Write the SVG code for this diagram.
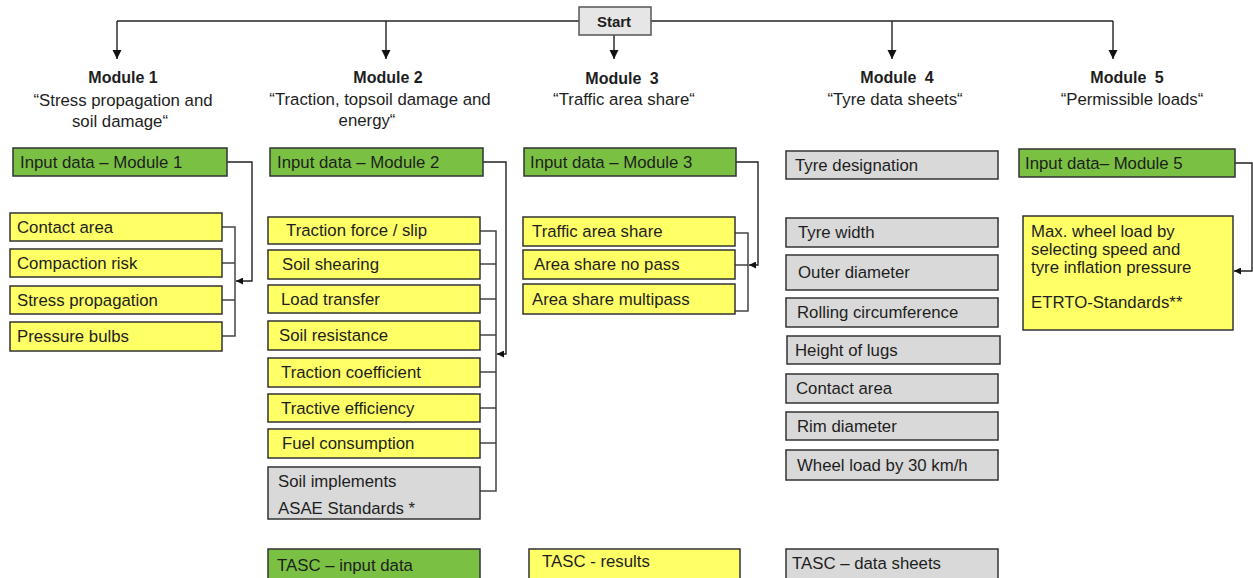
<svg xmlns="http://www.w3.org/2000/svg" width="1253" height="578" viewBox="0 0 1253 578">
<style>
text{font-family:"Liberation Sans",Arial,sans-serif;fill:#1e1e1e;font-size:16.8px}
.h{font-weight:bold;text-anchor:middle;font-size:16px}
.w{word-spacing:4px}
.s{text-anchor:middle}
rect.g{fill:#7ac143;stroke:#333;stroke-width:1.5}
rect.y{fill:#ffff66;stroke:#333;stroke-width:1.5}
rect.r{fill:#d9d9d9;stroke:#333;stroke-width:1.5}
rect.st{fill:#e6e6e6;stroke:#555;stroke-width:1.5}
.c{fill:none;stroke:#222;stroke-width:1.4}
.b{fill:none;stroke:#444;stroke-width:1.5}
</style>
<defs>
<marker id="ad" viewBox="0 0 10 10" refX="10" refY="5" markerWidth="9" markerHeight="10" markerUnits="userSpaceOnUse" orient="auto"><path d="M0,0 L10,5 L0,10 Z" fill="#111"/></marker>
<marker id="al" viewBox="0 0 10 10" refX="10" refY="5" markerWidth="8" markerHeight="7" markerUnits="userSpaceOnUse" orient="auto"><path d="M0,0 L10,5 L0,10 Z" fill="#111"/></marker>
</defs>

<g id="connectors">
<path class="c" d="M117,21 H1113"/>
<path class="c" d="M117,21 V59" marker-end="url(#ad)"/>
<path class="c" d="M386,21 V59" marker-end="url(#ad)"/>
<path class="c" d="M614,35 V59" marker-end="url(#ad)"/>
<path class="c" d="M892,21 V59" marker-end="url(#ad)"/>
<path class="c" d="M1113,21 V59" marker-end="url(#ad)"/>
<path class="c" d="M227,162 H252 V281 H236" marker-end="url(#al)"/>
<path class="b" d="M222,227 H235 V336 H222 M222,263 H235 M222,300 H235"/>
<path class="c" d="M483,162 H506 V354 H497" marker-end="url(#al)"/>
<path class="b" d="M480,231 H496 V491 H480 M480,264 H496 M480,299 H496 M480,335 H496 M480,372 H496 M480,408 H496 M480,443 H496"/>
<path class="c" d="M736,162 H758 V265 H749" marker-end="url(#al)"/>
<path class="b" d="M735,233 H748 V311 H735 M735,265 H748"/>
<path class="c" d="M1235,163 H1252 V271 H1234" marker-end="url(#al)"/>
</g>

<g id="start"><rect class="st" x="579" y="7" width="72" height="28"/><text class="h" x="614" y="27" style="font-size:15px">Start</text></g>

<g id="module1-title"><text class="h" x="123" y="83">Module 1</text><text class="s" x="123" y="106">“Stress propagation  and</text><text class="s" x="120" y="127">soil damage“</text></g>
<g id="module2-title"><text class="h" x="388" y="83">Module 2</text><text class="s" x="380" y="105">“Traction,  topsoil damage  and</text><text class="s" x="367" y="126">energy“</text></g>
<g id="module3-title"><text class="h w" x="622" y="84">Module  3</text><text class="s" x="624" y="105">“Traffic  area  share“</text></g>
<g id="module4-title"><text class="h w" x="897" y="83">Module  4</text><text class="s" x="895" y="105">“Tyre  data  sheets“</text></g>
<g id="module5-title"><text class="h w" x="1127" y="83">Module  5</text><text class="s" x="1132" y="105">“Permissible  loads“</text></g>

<g id="m1-input"><rect class="g" x="13" y="148" width="214" height="28"/><text x="20" y="168">Input  data – Module  1</text></g>
<g id="m1-contact"><rect class="y" x="10" y="213" width="212" height="28"/><text x="17" y="233">Contact area</text></g>
<g id="m1-compaction"><rect class="y" x="10" y="249" width="212" height="28"/><text x="17" y="269">Compaction risk</text></g>
<g id="m1-stress"><rect class="y" x="10" y="286" width="212" height="28"/><text x="17" y="306">Stress propagation</text></g>
<g id="m1-bulbs"><rect class="y" x="10" y="322" width="212" height="29"/><text x="17" y="342">Pressure bulbs</text></g>

<g id="m2-input"><rect class="g" x="270" y="148" width="213" height="28"/><text x="277" y="168">Input  data – Module  2</text></g>
<g id="m2-traction"><rect class="y" x="268" y="217" width="212" height="27"/><text x="286" y="236">Traction  force  / slip</text></g>
<g id="m2-shearing"><rect class="y" x="268" y="250" width="212" height="29"/><text x="282" y="270">Soil shearing</text></g>
<g id="m2-load"><rect class="y" x="268" y="285" width="212" height="28"/><text x="281" y="305">Load  transfer</text></g>
<g id="m2-resistance"><rect class="y" x="268" y="321" width="212" height="29"/><text x="279" y="341">Soil resistance</text></g>
<g id="m2-coef"><rect class="y" x="268" y="358" width="212" height="29"/><text x="281" y="378">Traction   coefficient</text></g>
<g id="m2-eff"><rect class="y" x="268" y="394" width="212" height="28"/><text x="281" y="414">Tractive  efficiency</text></g>
<g id="m2-fuel"><rect class="y" x="268" y="429" width="212" height="29"/><text x="282" y="449">Fuel  consumption</text></g>
<g id="m2-soil"><rect class="r" x="268" y="467" width="212" height="52"/><text x="278" y="487">Soil implements</text><text x="278" y="514">ASAE Standards  *</text></g>
<g id="tasc-input"><rect class="g" x="268" y="549" width="212" height="36"/><text x="277" y="571">TASC – input data</text></g>

<g id="m3-input"><rect class="g" x="524" y="148" width="212" height="28"/><text x="530" y="168">Input  data – Module  3</text></g>
<g id="m3-traffic"><rect class="y" x="523" y="217" width="212" height="29"/><text x="532" y="237">Traffic  area  share</text></g>
<g id="m3-nopass"><rect class="y" x="523" y="250" width="212" height="29"/><text x="534" y="270">Area share no  pass</text></g>
<g id="m3-multi"><rect class="y" x="523" y="284" width="212" height="30"/><text x="532" y="305">Area share  multipass</text></g>
<g id="tasc-results"><rect class="y" x="529" y="549" width="211" height="36"/><text x="542" y="567">TASC - results</text></g>

<g id="m4-designation"><rect class="r" x="786" y="151" width="212" height="28"/><text x="795" y="171">Tyre  designation</text></g>
<g id="m4-width"><rect class="r" x="786" y="218" width="212" height="29"/><text x="798" y="238">Tyre width</text></g>
<g id="m4-outer"><rect class="r" x="786" y="255" width="212" height="35"/><text x="798" y="278">Outer diameter</text></g>
<g id="m4-rolling"><rect class="r" x="786" y="298" width="212" height="29"/><text x="797" y="318">Rolling  circumference</text></g>
<g id="m4-lugs"><rect class="r" x="787" y="336" width="213" height="28"/><text x="795" y="356">Height  of lugs</text></g>
<g id="m4-contact"><rect class="r" x="786" y="374" width="212" height="29"/><text x="796" y="394">Contact  area</text></g>
<g id="m4-rim"><rect class="r" x="786" y="412" width="212" height="28"/><text x="797" y="432">Rim diameter</text></g>
<g id="m4-wheel"><rect class="r" x="786" y="450" width="212" height="30"/><text x="797" y="471">Wheel  load   by 30  km/h</text></g>
<g id="tasc-sheets"><rect class="r" x="786" y="549" width="212" height="36"/><text x="792" y="569">TASC – data  sheets</text></g>

<g id="m5-input"><rect class="g" x="1019" y="149" width="216" height="28"/><text x="1025" y="169">Input  data– Module  5</text></g>
<g id="m5-max"><rect class="y" x="1023" y="216" width="210" height="114"/><text x="1031" y="237">Max. wheel  load  by</text><text x="1031" y="255">selecting  speed  and</text><text x="1031" y="273">tyre inflation  pressure</text><text x="1031" y="308">ETRTO-Standards**</text></g>
</svg>
